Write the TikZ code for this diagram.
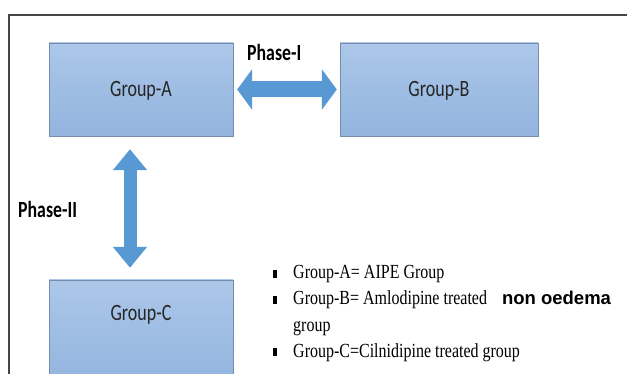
\documentclass[tikz,border=0pt]{standalone}
\usepackage{graphicx}
\usepackage{fontspec}
\setmainfont{Liberation Serif}
\newfontfamily\boxfont{Carlito}
\newfontfamily\notefont{Liberation Sans}
\usetikzlibrary{arrows.meta}
\usetikzlibrary{positioning}
\definecolor{boxtop}{RGB}{172,199,233}
\definecolor{boxbottom}{RGB}{146,180,222}
\definecolor{boxline}{RGB}{118,140,172}
\definecolor{phaseblue}{RGB}{88,152,211}
\definecolor{frameline}{RGB}{70,70,70}
\newcommand{\talltext}[1]{\scalebox{1}[1.3]{#1}}
\newcommand{\tallserif}[1]{\scalebox{1}[1.25]{#1}}
\newcommand{\listmark}{\makebox[20pt][l]{\rule[1pt]{4pt}{8pt}}}

\begin{document}
\begin{tikzpicture}
  [x=1pt, y=-1pt,
   groupbox/.style={rectangle, draw=boxline, top color=boxtop, bottom color=boxbottom,
         inner sep=0pt, text height=15pt, text depth=0pt, text=black!85,
         font=\boxfont\fontsize{18}{18}\selectfont},
   phaselabel/.style={anchor=base west, inner sep=0pt,
         font=\boxfont\bfseries\fontsize{17.8}{18}\selectfont},
   listline/.style={anchor=base west, inner sep=0pt, font=\fontsize{16}{16}\selectfont}
  ]
  \useasboundingbox (0,0) rectangle (627,374);
  \draw [frameline, line width=1.2pt] (627,15) -- (9,15) -- (9,380);

 \path
   (141, 89.5) node (groupA) [groupbox, minimum width=184pt, minimum height=93pt] {\talltext{Group-A}}
  ++(298, 0)   node (groupB) [groupbox, minimum width=198pt, minimum height=93pt] {\talltext{Group-B}}
   (141, 320)  node (groupC) [groupbox, minimum width=184pt, anchor=base,
                              text height=40pt, text depth=64pt] {\talltext{Group-C}};

  \node (phaseI)  [phaselabel] at (247, 61)  {\talltext{Phase-I}};
  \node (phaseII) [phaselabel] at (18, 218)  {\talltext{Phase-II}};

   \begin{scope}[phaseblue]
   \draw [line width=16pt, shorten <=4pt, shorten >=3pt,
          {Triangle[length=15pt,width=40pt]}-{Triangle[length=15pt,width=40pt]}]
          (groupA) to (groupB);
   \draw [line width=13pt, shorten <=13pt, shorten >=12pt,
          {Triangle[length=21pt,width=33pt]}-{Triangle[length=21pt,width=33pt]}]
          ([xshift=-11pt]groupA.south) to ([xshift=-11pt]groupC.north);
   \end{scope}

  \node (itemA) [listline] at (273, 279) {\listmark\tallserif{Group-A= AIPE Group}};
  \node (itemB) [listline] at (273, 305) {\listmark\tallserif{Group-B= Amlodipine treated}\hspace{15pt}{\notefont\bfseries\fontsize{18.5}{18}\selectfont non oedema}};
  \node (itemBb) [listline] at (293, 331) {\tallserif{group}};
  \node (itemC) [listline] at (273, 357) {\listmark\tallserif{Group-C=Cilnidipine treated group}};

\end{tikzpicture}
\end{document}
